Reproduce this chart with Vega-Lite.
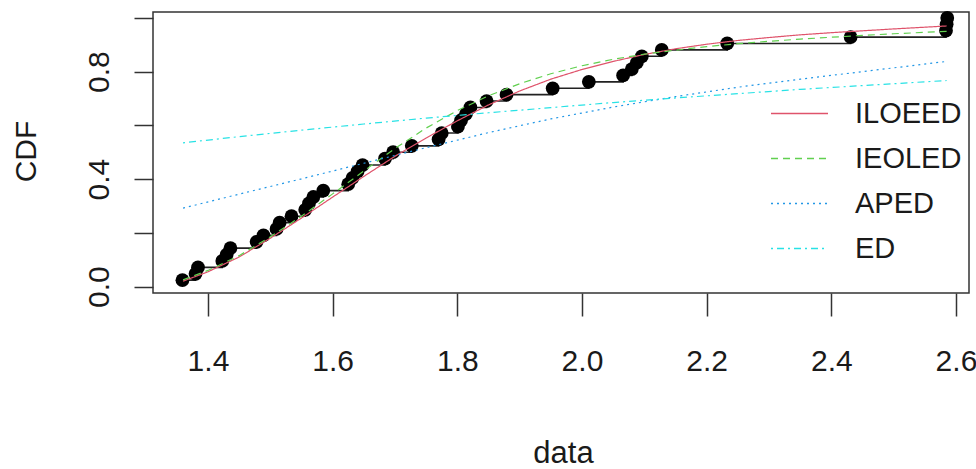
{
  "$schema": "https://vega.github.io/schema/vega-lite/v6.json",
  "width": 816,
  "height": 281,
  "autosize": "none",
  "padding": {"left": 153, "top": 12, "right": 7, "bottom": 176},
  "background": "white",
  "config": {
    "font": "Liberation Sans",
    "view": {"stroke": "#333333", "strokeWidth": 1.5},
    "axis": {"grid": false, "domain": false, "tickColor": "#333333", "tickWidth": 1.5, "labelColor": "#1a1a1a", "titleColor": "#1a1a1a", "labelFont": "Liberation Sans", "titleFont": "Liberation Sans", "titleFontWeight": "normal", "labelOverlap": false, "labelFlush": false}
  },
  "datasets": {
    "ecdf": [
      {"x": 1.359, "F": 0.0238}, {"x": 1.380, "F": 0.0476}, {"x": 1.384, "F": 0.0714},
      {"x": 1.423, "F": 0.0952}, {"x": 1.430, "F": 0.1190}, {"x": 1.436, "F": 0.1429},
      {"x": 1.478, "F": 0.1667}, {"x": 1.489, "F": 0.1905}, {"x": 1.510, "F": 0.2143},
      {"x": 1.515, "F": 0.2381}, {"x": 1.534, "F": 0.2619}, {"x": 1.556, "F": 0.2857},
      {"x": 1.562, "F": 0.3095}, {"x": 1.569, "F": 0.3333}, {"x": 1.585, "F": 0.3571},
      {"x": 1.625, "F": 0.3810}, {"x": 1.632, "F": 0.4048}, {"x": 1.640, "F": 0.4286},
      {"x": 1.648, "F": 0.4524}, {"x": 1.684, "F": 0.4762}, {"x": 1.697, "F": 0.5000},
      {"x": 1.727, "F": 0.5238}, {"x": 1.770, "F": 0.5476}, {"x": 1.775, "F": 0.5714},
      {"x": 1.801, "F": 0.5952}, {"x": 1.806, "F": 0.6190}, {"x": 1.814, "F": 0.6429},
      {"x": 1.821, "F": 0.6667}, {"x": 1.847, "F": 0.6905}, {"x": 1.879, "F": 0.7143},
      {"x": 1.953, "F": 0.7381}, {"x": 2.011, "F": 0.7619}, {"x": 2.066, "F": 0.7857},
      {"x": 2.080, "F": 0.8095}, {"x": 2.088, "F": 0.8333}, {"x": 2.096, "F": 0.8571},
      {"x": 2.128, "F": 0.8810}, {"x": 2.233, "F": 0.9048}, {"x": 2.431, "F": 0.9286},
      {"x": 2.584, "F": 0.9524}, {"x": 2.585, "F": 0.9762}, {"x": 2.586, "F": 1.0}
    ],
    "fits": [
      {"model": "ILOEED", "x": 1.36, "F": 0.02}, {"model": "ILOEED", "x": 1.40, "F": 0.055},
      {"model": "ILOEED", "x": 1.45, "F": 0.11}, {"model": "ILOEED", "x": 1.50, "F": 0.18},
      {"model": "ILOEED", "x": 1.55, "F": 0.255}, {"model": "ILOEED", "x": 1.60, "F": 0.333},
      {"model": "ILOEED", "x": 1.65, "F": 0.41}, {"model": "ILOEED", "x": 1.70, "F": 0.485},
      {"model": "ILOEED", "x": 1.75, "F": 0.553}, {"model": "ILOEED", "x": 1.80, "F": 0.617},
      {"model": "ILOEED", "x": 1.85, "F": 0.676}, {"model": "ILOEED", "x": 1.90, "F": 0.728},
      {"model": "ILOEED", "x": 1.95, "F": 0.772}, {"model": "ILOEED", "x": 2.00, "F": 0.808},
      {"model": "ILOEED", "x": 2.05, "F": 0.838}, {"model": "ILOEED", "x": 2.10, "F": 0.864},
      {"model": "ILOEED", "x": 2.15, "F": 0.885}, {"model": "ILOEED", "x": 2.20, "F": 0.902},
      {"model": "ILOEED", "x": 2.25, "F": 0.916}, {"model": "ILOEED", "x": 2.30, "F": 0.927},
      {"model": "ILOEED", "x": 2.35, "F": 0.937}, {"model": "ILOEED", "x": 2.40, "F": 0.945},
      {"model": "ILOEED", "x": 2.45, "F": 0.952}, {"model": "ILOEED", "x": 2.50, "F": 0.959},
      {"model": "ILOEED", "x": 2.585, "F": 0.97},
      {"model": "IEOLED", "x": 1.36, "F": 0.025}, {"model": "IEOLED", "x": 1.40, "F": 0.06},
      {"model": "IEOLED", "x": 1.45, "F": 0.115}, {"model": "IEOLED", "x": 1.50, "F": 0.185},
      {"model": "IEOLED", "x": 1.55, "F": 0.262}, {"model": "IEOLED", "x": 1.60, "F": 0.345},
      {"model": "IEOLED", "x": 1.65, "F": 0.43}, {"model": "IEOLED", "x": 1.70, "F": 0.514},
      {"model": "IEOLED", "x": 1.75, "F": 0.59}, {"model": "IEOLED", "x": 1.80, "F": 0.655},
      {"model": "IEOLED", "x": 1.85, "F": 0.71}, {"model": "IEOLED", "x": 1.90, "F": 0.755},
      {"model": "IEOLED", "x": 1.95, "F": 0.792}, {"model": "IEOLED", "x": 2.00, "F": 0.822},
      {"model": "IEOLED", "x": 2.05, "F": 0.846}, {"model": "IEOLED", "x": 2.10, "F": 0.865},
      {"model": "IEOLED", "x": 2.15, "F": 0.88}, {"model": "IEOLED", "x": 2.20, "F": 0.893},
      {"model": "IEOLED", "x": 2.25, "F": 0.904}, {"model": "IEOLED", "x": 2.30, "F": 0.913},
      {"model": "IEOLED", "x": 2.35, "F": 0.921}, {"model": "IEOLED", "x": 2.40, "F": 0.928},
      {"model": "IEOLED", "x": 2.45, "F": 0.935}, {"model": "IEOLED", "x": 2.50, "F": 0.941},
      {"model": "IEOLED", "x": 2.585, "F": 0.95},
      {"model": "APED", "x": 1.36, "F": 0.292}, {"model": "APED", "x": 1.45, "F": 0.344},
      {"model": "APED", "x": 1.55, "F": 0.401}, {"model": "APED", "x": 1.65, "F": 0.459},
      {"model": "APED", "x": 1.75, "F": 0.517}, {"model": "APED", "x": 1.85, "F": 0.573},
      {"model": "APED", "x": 1.95, "F": 0.624}, {"model": "APED", "x": 2.05, "F": 0.668},
      {"model": "APED", "x": 2.15, "F": 0.707}, {"model": "APED", "x": 2.25, "F": 0.742},
      {"model": "APED", "x": 2.35, "F": 0.772}, {"model": "APED", "x": 2.45, "F": 0.80},
      {"model": "APED", "x": 2.585, "F": 0.838},
      {"model": "ED", "x": 1.36, "F": 0.535}, {"model": "ED", "x": 1.45, "F": 0.558},
      {"model": "ED", "x": 1.55, "F": 0.582}, {"model": "ED", "x": 1.65, "F": 0.605},
      {"model": "ED", "x": 1.75, "F": 0.627}, {"model": "ED", "x": 1.85, "F": 0.647},
      {"model": "ED", "x": 1.95, "F": 0.666}, {"model": "ED", "x": 2.05, "F": 0.685},
      {"model": "ED", "x": 2.15, "F": 0.702}, {"model": "ED", "x": 2.25, "F": 0.718},
      {"model": "ED", "x": 2.35, "F": 0.734}, {"model": "ED", "x": 2.45, "F": 0.748},
      {"model": "ED", "x": 2.585, "F": 0.767}
    ]
  },
  "encoding": {
    "x": {
      "field": "x", "type": "quantitative",
      "scale": {"domain": [1.3118, 2.6209], "nice": false, "zero": false},
      "axis": {
        "title": "data", "values": [1.4, 1.6, 1.8, 2.0, 2.2, 2.4, 2.6], "format": ".1f",
        "tickSize": 23, "labelFontSize": 30, "labelBaseline": "alphabetic", "labelPadding": 54,
        "titleFontSize": 31, "titleBaseline": "bottom", "titleX": 410, "titleY": 176, "titleAlign": "center"
      }
    },
    "y": {
      "field": "F", "type": "quantitative",
      "scale": {"domain": [-0.024, 1.022], "nice": false, "zero": false},
      "axis": {
        "title": "CDF", "values": [0, 0.2, 0.4, 0.6, 0.8, 1.0],
        "labelExpr": "(abs(datum.value) < 0.01 || abs(datum.value - 0.4) < 0.01 || abs(datum.value - 0.8) < 0.01) ? format(datum.value, '.1f') : ''",
        "tickSize": 19, "labelFontSize": 30, "labelAngle": -90, "labelAlign": "center", "labelBaseline": "alphabetic", "labelPadding": 26,
        "titleFontSize": 30, "titleAngle": -90, "titleBaseline": "alphabetic", "titleAlign": "center", "titleX": -118, "titleY": 139
      }
    }
  },
  "layer": [
    {
      "data": {"name": "ecdf"},
      "mark": {"type": "line", "interpolate": "step-after", "color": "#222222", "strokeWidth": 1.6},
      "encoding": {}
    },
    {
      "data": {"name": "ecdf"},
      "mark": {"type": "point", "filled": true, "shape": "circle", "color": "#000000", "size": 190, "opacity": 1},
      "encoding": {}
    },
    {
      "data": {"name": "fits"},
      "mark": {"type": "line", "strokeWidth": 1.2},
      "encoding": {
        "detail": {"field": "model"},
        "color": {
          "field": "model", "type": "nominal",
          "scale": {"domain": ["ILOEED", "IEOLED", "APED", "ED"], "range": ["#DF536B", "#61D04F", "#2297E6", "#28E2E5"]},
          "legend": {"title": null, "orient": "none", "legendX": 617, "legendY": 72, "symbolType": "stroke", "symbolSize": 3249, "symbolStrokeWidth": 1.3, "labelFontSize": 29, "labelColor": "#1a1a1a", "labelFont": "Liberation Sans", "labelOffset": 26, "rowPadding": 0, "padding": 0, "labelLimit": 300}
        },
        "strokeDash": {
          "field": "model", "type": "nominal",
          "scale": {"domain": ["ILOEED", "IEOLED", "APED", "ED"], "range": [[1, 0], [7, 5], [2, 4], [2, 4, 7, 4]]},
          "legend": {"title": null, "orient": "none", "legendX": 617, "legendY": 72, "symbolType": "stroke", "symbolSize": 3249, "symbolStrokeWidth": 1.3, "labelFontSize": 29, "labelColor": "#1a1a1a", "labelFont": "Liberation Sans", "labelOffset": 26, "rowPadding": 0, "padding": 0, "labelLimit": 300}
        }
      }
    }
  ]
}
